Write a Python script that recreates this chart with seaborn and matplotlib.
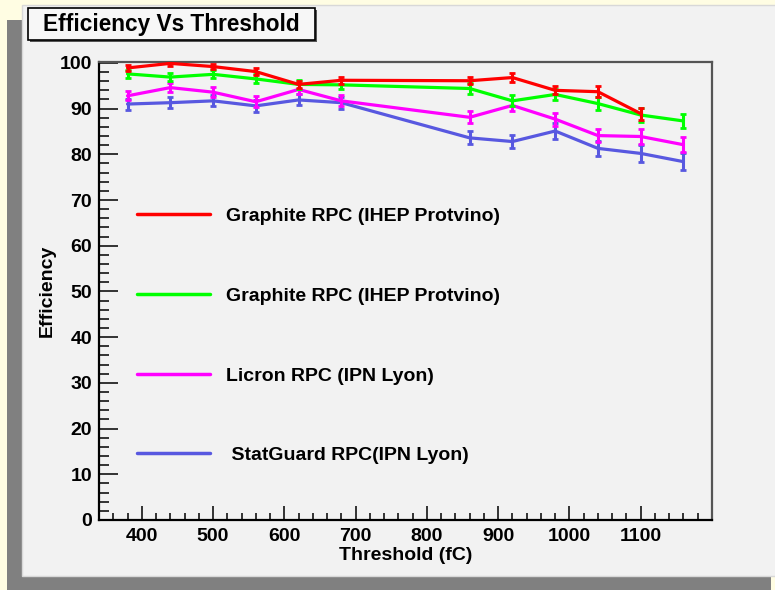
import matplotlib
matplotlib.use("Agg")
import matplotlib.pyplot as plt
from matplotlib.patches import Rectangle
from matplotlib.ticker import MultipleLocator
import pandas as pd
import seaborn as sns

# ---- data -------------------------------------------------------------
threshold = [380, 440, 500, 560, 620, 680, 860, 920, 980, 1040, 1100, 1160]

graphite_a_eff = [98.9, 99.9, 99.2, 98.1, 95.3, 96.2, 96.1, 96.8, 94.0, 93.7, 88.9]
graphite_a_err = [0.6, 0.5, 0.6, 0.7, 0.7, 0.8, 0.8, 0.9, 0.9, 1.2, 1.3]

graphite_b_eff = [97.6, 96.9, 97.5, 96.5, 95.3, 95.2, 94.4, 91.7, 93.1, 91.1, 88.6, 87.3]
graphite_b_err = [0.9, 0.9, 0.9, 1.0, 1.0, 1.0, 1.1, 1.2, 1.3, 1.4, 1.5, 1.6]

licron_eff = [92.8, 94.6, 93.6, 91.5, 94.2, 91.7, 88.1, 90.7, 87.7, 84.1, 83.9, 82.1]
licron_err = [1.0, 1.0, 1.1, 1.2, 1.1, 1.2, 1.3, 1.2, 1.4, 1.5, 1.6, 1.6]

statguard_eff = [91.0, 91.3, 91.7, 90.6, 91.9, 91.3, 83.6, 82.8, 85.1, 81.3, 80.2, 78.4]
statguard_err = [1.2, 1.2, 1.2, 1.3, 1.2, 1.3, 1.4, 1.4, 1.7, 1.7, 1.8, 1.9]

labels = ["Graphite RPC (IHEP Protvino)", "Graphite RPC (IHEP Protvino)",
          "Licron RPC (IPN Lyon)", " StatGuard RPC(IPN Lyon)"]
colors = ["#ff0000", "#00ff00", "#ff00ff", "#5858e0"]

x_ticks = [400, 500, 600, 700, 800, 900, 1000, 1100]
y_ticks = [0, 10, 20, 30, 40, 50, 60, 70, 80, 90, 100]

series = [
    (graphite_a_eff, graphite_a_err),
    (graphite_b_eff, graphite_b_err),
    (licron_eff, licron_err),
    (statguard_eff, statguard_err),
]

# ---- figure -----------------------------------------------------------
sns.set_theme(style="white")
plt.rcParams["font.family"] = ["Liberation Sans", "DejaVu Sans"]
plt.rcParams["font.weight"] = "bold"
plt.rcParams["text.color"] = "black"
plt.rcParams["axes.labelcolor"] = "black"
plt.rcParams["xtick.color"] = "black"
plt.rcParams["ytick.color"] = "black"

W, H = 775, 590
fig = plt.figure(figsize=(W / 100, H / 100), dpi=100)
fig.patch.set_facecolor("#fffde3")


def px_rect(x0, y0, x1, y1, **kw):
    """Rectangle given in pixel coordinates measured from the top-left."""
    return Rectangle((x0 / W, 1 - y1 / H), (x1 - x0) / W, (y1 - y0) / H,
                     transform=fig.transFigure, **kw)


# canvas shadow and canvas
fig.patches.append(px_rect(7, 20, 771, 590, facecolor="#808080",
                           edgecolor="none", zorder=0))
fig.patches.append(px_rect(22, 5, 776, 576, facecolor="#f2f2f2",
                           edgecolor="#d8d8d8", linewidth=1, zorder=1))

ax = fig.add_axes([99 / W, 1 - 520 / H, (712 - 99) / W, (520 - 62) / H])
ax.set_facecolor("#f2f2f2")
ax.set_zorder(2)

draw_order = [3, 2, 1, 0]
handles = [None] * 4
for i in draw_order:
    eff, err = series[i]
    xs = threshold[:len(eff)]
    df = pd.DataFrame({"threshold": xs, "efficiency": eff, "err": err})
    sns.lineplot(data=df, x="threshold", y="efficiency", ax=ax,
                 color=colors[i], linewidth=2.3, marker=".", markersize=2.5,
                 markerfacecolor="black", markeredgecolor="black",
                 errorbar=None, zorder=3 + (3 - i))
    handles[i] = ax.lines[-1]
    ax.errorbar(df["threshold"], df["efficiency"], yerr=df["err"], fmt="none",
                ecolor=colors[i], elinewidth=2.2, capsize=2, capthick=2,
                zorder=3 + (3 - i))

ax.set_xlim(340, 1200)
ax.set_ylim(0, 100.2)
ax.set_xticks(x_ticks)
ax.set_yticks(y_ticks)
ax.xaxis.set_minor_locator(MultipleLocator(20))
ax.yaxis.set_minor_locator(MultipleLocator(2))
ax.tick_params(which="both", bottom=True, left=True, top=False, right=False,
               direction="in", color="black", width=1.1)
ax.tick_params(axis="x", which="major", length=10, labelsize=14, pad=6)
ax.tick_params(axis="x", which="minor", length=5)
ax.tick_params(axis="y", which="major", length=13.5, labelsize=14, pad=5)
ax.tick_params(axis="y", which="minor", length=7)
for lab in ax.get_xticklabels() + ax.get_yticklabels():
    lab.set_fontweight("bold")
    lab.set_color("black")

for side in ["left", "bottom"]:
    ax.spines[side].set_color("black")
    ax.spines[side].set_linewidth(1.6)
for side in ["top", "right"]:
    ax.spines[side].set_color("#555555")
    ax.spines[side].set_linewidth(1.6)

ax.set_xlabel("Threshold (fC)", fontsize=14, fontweight="bold", color="black")
ax.set_ylabel("Efficiency", fontsize=14, fontweight="bold", color="black")
ax.xaxis.set_label_coords(0.5, (520 - 555) / 458)
ax.yaxis.set_label_coords((47 - 99) / 613, 0.5)
ax.xaxis.label.set_va("center")
ax.yaxis.label.set_va("center")

leg = ax.legend(handles=handles, labels=labels, loc="upper left",
                bbox_to_anchor=(0.062, 0.682), frameon=False,
                fontsize=14, handlelength=3.76, handletextpad=0.82,
                labelspacing=3.19, borderpad=0, borderaxespad=0)
for t in leg.get_texts():
    t.set_fontweight("bold")
    t.set_color("black")
for h in leg.legend_handles:
    h.set_linewidth(2.5)
    h.set_marker("")

# title box
fig.patches.append(px_rect(30, 10, 317, 42, facecolor="#555555",
                           edgecolor="none", zorder=3))
fig.patches.append(px_rect(28, 8, 315, 40, facecolor="#f7f7f7",
                           edgecolor="black", linewidth=1.2, zorder=4))
fig.text((28 + 315) / 2 / W, 1 - 24 / H, "Efficiency Vs Threshold",
         ha="center", va="center", fontsize=16.3, fontweight="bold",
         color="black", zorder=5)

fig.savefig("out.png", dpi=100, facecolor=fig.get_facecolor())
